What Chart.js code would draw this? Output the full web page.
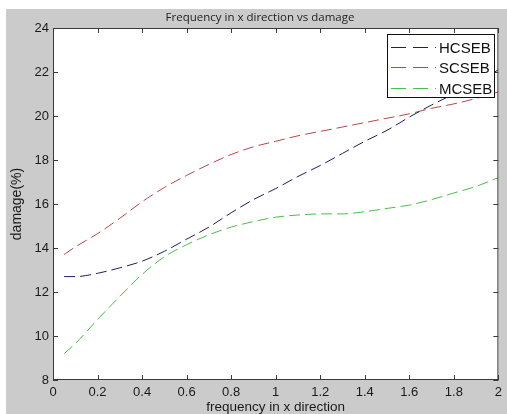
<!DOCTYPE html>
<html>
<head>
<meta charset="utf-8">
<script src="https://cdn.jsdelivr.net/npm/chart.js@4.4.1/dist/chart.umd.min.js"></script>
<style>
  html, body { margin: 0; padding: 0; background: #fff; }
  canvas { display: block; }
</style>
</head>
<body>
<canvas id="chart1" width="507" height="414"></canvas>
<script>
// values
const freq = [0.05, 0.1, 0.2, 0.3, 0.4, 0.5, 0.6, 0.7, 0.8, 0.9, 1.0, 1.1, 1.2, 1.3, 1.4, 1.5, 1.6, 1.7, 1.8, 1.9, 2.0];
const hcseb = [12.7, 12.7, 12.85, 13.1, 13.4, 13.85, 14.4, 14.95, 15.6, 16.2, 16.7, 17.25, 17.75, 18.3, 18.85, 19.35, 19.95, 20.5, 21.0, 21.5, 22.1];
const scseb = [13.7, 14.05, 14.65, 15.35, 16.1, 16.75, 17.3, 17.8, 18.25, 18.6, 18.85, 19.1, 19.3, 19.5, 19.7, 19.9, 20.1, 20.35, 20.55, 20.8, 21.1];
const mcseb = [9.2, 9.65, 10.75, 11.8, 12.8, 13.6, 14.15, 14.6, 14.95, 15.2, 15.4, 15.5, 15.55, 15.55, 15.65, 15.8, 15.95, 16.2, 16.5, 16.8, 17.2];
const seriesNames = ['HCSEB', 'SCSEB', 'MCSEB'];
const xTickLabels = ['0', '0.2', '0.4', '0.6', '0.8', '1', '1.2', '1.4', '1.6', '1.8', '2'];

const colors = ['#1e1e5e', '#b84848', '#48bf48'];

function pts(ys) {
  return freq.map((x, i) => ({ x: x, y: ys[i] }));
}

// grey figure background
const figureBg = {
  id: 'figureBg',
  beforeDraw(chart) {
    const ctx = chart.ctx;
    ctx.save();
    ctx.fillStyle = '#ffffff';
    ctx.fillRect(0, 0, chart.width, chart.height);
    ctx.fillStyle = '#cbcbcb';
    ctx.fillRect(6, 9, chart.width - 6, chart.height - 9);
    const a = chart.chartArea;
    ctx.fillStyle = '#ffffff';
    ctx.fillRect(a.left, a.top, a.right - a.left, a.bottom - a.top);
    ctx.restore();
  }
};

// box around the axes with ticks pointing inwards, plus legend box
const axesBox = {
  id: 'axesBox',
  afterDatasetsDraw(chart) {
    const ctx = chart.ctx;
    const a = chart.chartArea;
    const xs = chart.scales.x, ys = chart.scales.y;
    ctx.save();
    ctx.strokeStyle = '#3a3a3a';
    ctx.lineWidth = 1;
    ctx.strokeRect(a.left + 0.5, a.top + 0.5, a.right - a.left - 1, a.bottom - a.top - 1);
    ctx.beginPath();
    xs.ticks.forEach(t => {
      const px = Math.round(xs.getPixelForValue(t.value)) + 0.5;
      ctx.moveTo(px, a.bottom); ctx.lineTo(px, a.bottom - 5);
      ctx.moveTo(px, a.top); ctx.lineTo(px, a.top + 5);
    });
    ys.ticks.forEach(t => {
      const py = Math.round(ys.getPixelForValue(t.value)) + 0.5;
      ctx.moveTo(a.left, py); ctx.lineTo(a.left + 5, py);
      ctx.moveTo(a.right, py); ctx.lineTo(a.right - 5, py);
    });
    ctx.stroke();

    // legend
    const lx = 387, ly = 34, lw = 107, lh = 63;
    ctx.fillStyle = '#ffffff';
    ctx.fillRect(lx, ly, lw, lh);
    ctx.strokeStyle = '#111111';
    ctx.strokeRect(lx + 0.5, ly + 0.5, lw, lh);
    ctx.font = '15px "Liberation Sans", Arial, sans-serif';
    ctx.textBaseline = 'middle';
    chart.data.datasets.forEach((ds, i) => {
      const y = Math.round(ly + 12.5 + i * 20.5) + 0.5;
      ctx.strokeStyle = ds.borderColor;
      ctx.setLineDash([15, 7]);
      ctx.beginPath();
      ctx.moveTo(lx + 4, y); ctx.lineTo(lx + 49, y);
      ctx.stroke();
      ctx.setLineDash([]);
      ctx.fillStyle = '#111111';
      ctx.fillText(ds.label, lx + 52, y + 1);
    });
    ctx.restore();
  }
};

var ctx1 = document.getElementById('chart1').getContext('2d');
var chart1 = new Chart(ctx1, {
  type: 'line',
  data: {
    datasets: [hcseb, scseb, mcseb].map((ys, i) => ({
      label: seriesNames[i],
      data: pts(ys),
      borderColor: colors[i],
      borderWidth: 1,
      borderDash: [11, 5],
      pointRadius: 0,
      fill: false,
      cubicInterpolationMode: 'monotone'
    }))
  },
  options: {
    responsive: false,
    animation: false,
    layout: { padding: { left: 21, right: 8, top: 0, bottom: 0 } },
    plugins: {
      legend: { display: false },
      tooltip: { enabled: false },
      title: {
        display: true,
        text: 'Frequency in x direction vs damage',
        color: '#222222',
        font: { family: '"Open Sans", sans-serif', size: 11.5, weight: 'normal', lineHeight: 1.2 },
        padding: { top: 11, bottom: 3.2 }
      }
    },
    scales: {
      x: {
        type: 'linear',
        min: 0, max: 2,
        grid: { display: false, drawTicks: false },
        border: { display: false },
        ticks: {
          stepSize: 0.2,
          padding: 5,
          color: '#1a1a1a',
          maxRotation: 0,
          font: { family: '"Liberation Sans", Arial, sans-serif', size: 13 },
          callback: (v) => xTickLabels[Math.round(v * 5)]
        },
        title: {
          display: true,
          text: 'frequency in x direction',
          color: '#1a1a1a',
          font: { family: '"Liberation Sans", Arial, sans-serif', size: 13.5, lineHeight: 1 },
          padding: { top: 0, bottom: 0 }
        },
        afterFit: (s) => { s.height = 34; }
      },
      y: {
        min: 8, max: 24,
        grid: { display: false, drawTicks: false },
        border: { display: false },
        ticks: {
          stepSize: 2,
          padding: 4,
          color: '#1a1a1a',
          font: { family: '"Liberation Sans", Arial, sans-serif', size: 13 }
        },
        title: {
          display: true,
          text: 'damage(%)',
          color: '#1a1a1a',
          font: { family: '"Liberation Sans", Arial, sans-serif', size: 14, lineHeight: 1.2 },
          padding: { top: -12.4, bottom: 0 }
        },
        afterFit: (s) => { s.width = 32; }
      }
    }
  },
  plugins: [figureBg, axesBox]
});
</script>
</body>
</html>
